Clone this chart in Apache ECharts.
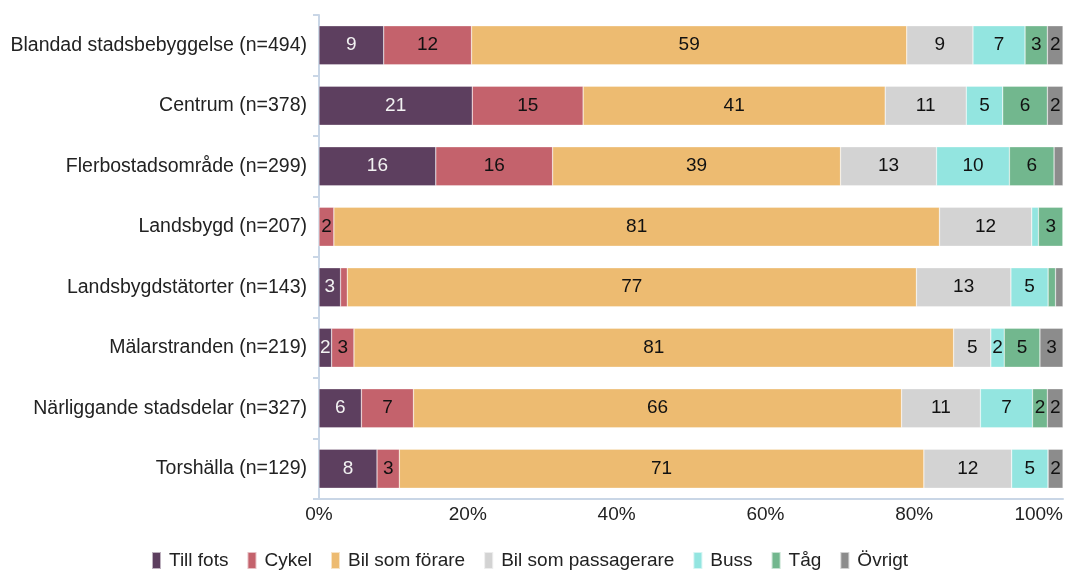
<!DOCTYPE html>
<html>
<head>
<meta charset="utf-8">
<script src="https://cdn.jsdelivr.net/npm/echarts@6/dist/echarts.min.js"></script>
<style>html,body{margin:0;padding:0;background:#fff}#c{width:1065px;height:572px}</style>
</head>
<body>
<div id="c"></div>
<script>
const categories = [
  "Blandad stadsbebyggelse (n=494)",
  "Centrum (n=378)",
  "Flerbostadsområde (n=299)",
  "Landsbygd (n=207)",
  "Landsbygdstätorter (n=143)",
  "Mälarstranden (n=219)",
  "Närliggande stadsdelar (n=327)",
  "Torshälla (n=129)"
];
const tillFots      = [8.7, 20.6, 15.7, 0,    2.9,  1.7,  5.7,  7.8];
const cykel         = [11.8, 14.9, 15.7, 2.0, 0.9,  3.0,  7.0,  3.0];
const bilForare     = [58.5, 40.6, 38.7, 81.4, 76.5, 80.6, 65.6, 70.5];
const bilPassagerare= [8.9, 10.9, 12.9, 12.4, 12.7, 5.0,  10.6, 11.8];
const buss          = [7.0, 4.9,  9.8,  0.9,  5.0,  1.8,  7.0,  4.9];
const tag           = [3.0, 6.0,  6.0,  3.3,  1.0,  4.8,  2.0,  0];
const ovrigt        = [2.1, 2.1,  1.2,  0,    1.0,  3.1,  2.1,  2.0];
const xTicks = ["0%", "20%", "40%", "60%", "80%", "100%"];

const seriesDefs = [
  ["Till fots", tillFots, "#5d3f5f", "#f2f2f2"],
  ["Cykel", cykel, "#c4626c", "#111111"],
  ["Bil som förare", bilForare, "#edbb71", "#111111"],
  ["Bil som passagerare", bilPassagerare, "#d3d3d3", "#111111"],
  ["Buss", buss, "#93e5e0", "#111111"],
  ["Tåg", tag, "#72b78e", "#111111"],
  ["Övrigt", ovrigt, "#8c8c8c", "#111111"]
];

const FS = 19;
const chart = echarts.init(document.getElementById('c'), null, {renderer: 'canvas'});
chart.setOption({
  animation: false,
  textStyle: {fontFamily: 'Liberation Sans, Arial, sans-serif'},
  grid: {left: 319, right: 2, top: 15, bottom: 73, containLabel: false, outerBoundsMode: 'none'},
  legend: {
    bottom: -3,
    left: 146,
    itemWidth: 9,
    itemHeight: 17,
    itemGap: 18,
    icon: 'rect',
    textStyle: {fontSize: FS, color: '#222', padding: [0, 0, 0, 3], fontFamily: 'Liberation Sans, Arial, sans-serif'},
    data: seriesDefs.map(s => s[0])
  },
  xAxis: {
    type: 'value',
    min: 0, max: 100, interval: 20,
    axisLine: {show: true, lineStyle: {color: '#c9d6e6', width: 2}},
    axisTick: {show: false},
    splitLine: {show: false},
    axisLabel: {
      fontSize: FS, color: '#222', margin: 6,
      alignMaxLabel: 'right',
      formatter: v => xTicks[Math.round(v / 20)]
    }
  },
  yAxis: {
    type: 'category',
    inverse: true,
    data: categories,
    axisLine: {show: true, lineStyle: {color: '#c9d6e6', width: 2}},
    axisTick: {show: true, length: 6, lineStyle: {color: '#c9d6e6', width: 2}},
    axisLabel: {fontSize: 19.5, color: '#222', margin: 12}
  },
  series: seriesDefs.map(([name, data, color, lc]) => ({
    name: name,
    type: 'bar',
    stack: 'total',
    barWidth: 39,
    data: data,
    itemStyle: {color: color, borderColor: 'rgba(255,255,255,0.6)', borderWidth: 0.5},
    label: {
      show: true,
      position: 'inside',
      fontSize: FS,
      color: lc,
      formatter: p => p.value >= 1.5 ? String(Math.round(p.value)) : ''
    }
  }))
});
</script>
</body>
</html>
